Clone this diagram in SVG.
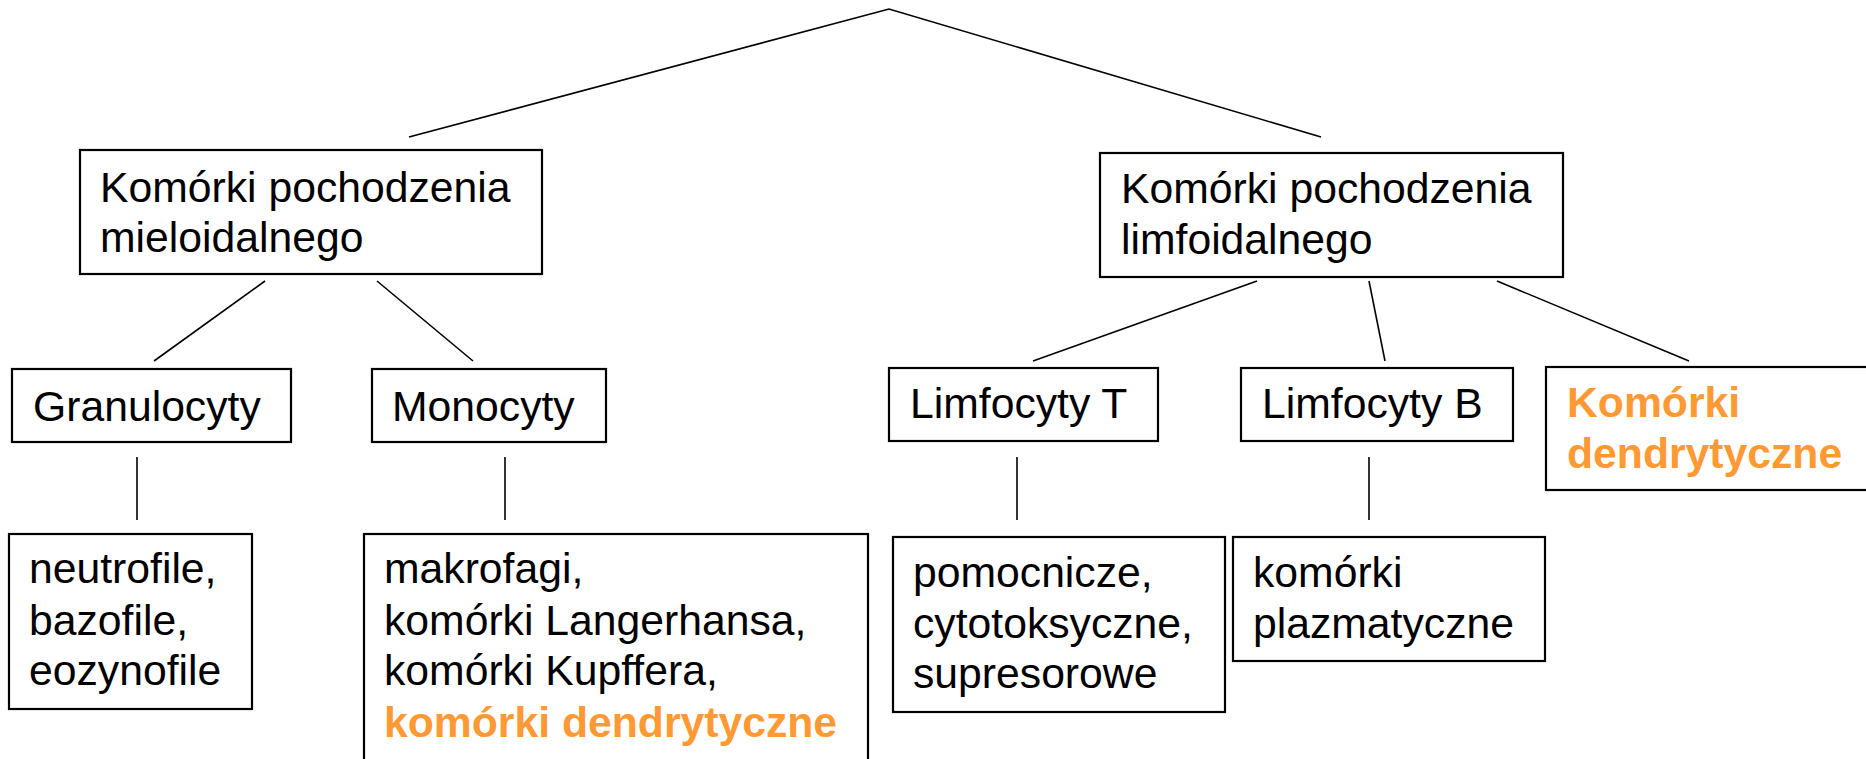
<svg xmlns="http://www.w3.org/2000/svg" width="1866" height="759" viewBox="0 0 1866 759">
<style>
.box{fill:#fff;stroke:#000;stroke-width:2.2}
.t{font-family:"Liberation Sans",Arial,sans-serif;font-size:42.7px;fill:#000}
.o{font-family:"Liberation Sans",Arial,sans-serif;font-size:42.7px;font-weight:bold;fill:#FF9933}
.ln{stroke:#000;stroke-width:1.6;fill:none}
</style>
<rect width="1866" height="759" fill="#fff"/>
<g id="connectors">
<polyline class="ln" points="409,137 889,9 1321,137"/>
<line class="ln" x1="265" y1="281" x2="154" y2="361"/>
<line class="ln" x1="377" y1="281" x2="473" y2="361"/>
<line class="ln" x1="1257" y1="281" x2="1033" y2="361"/>
<line class="ln" x1="1369" y1="281" x2="1385" y2="361"/>
<line class="ln" x1="1497" y1="281" x2="1689" y2="361"/>
<line class="ln" x1="137" y1="457" x2="137" y2="520"/>
<line class="ln" x1="505" y1="457" x2="505" y2="520"/>
<line class="ln" x1="1017" y1="457" x2="1017" y2="520"/>
<line class="ln" x1="1369" y1="457" x2="1369" y2="520"/>
</g>
<g id="mieloid">
<rect class="box" x="80" y="150" width="462" height="124"/>
<text class="t" x="100" y="202">Komórki pochodzenia</text>
<text class="t" x="100" y="252">mieloidalnego</text>
</g>
<g id="limfoid">
<rect class="box" x="1100" y="153" width="463" height="124"/>
<text class="t" x="1121" y="203">Komórki pochodzenia</text>
<text class="t" x="1121" y="254">limfoidalnego</text>
</g>
<g id="granulocyty">
<rect class="box" x="12" y="369" width="279" height="73"/>
<text class="t" x="33" y="421">Granulocyty</text>
</g>
<g id="monocyty">
<rect class="box" x="372" y="369" width="234" height="73"/>
<text class="t" x="392" y="421">Monocyty</text>
</g>
<g id="limfocytyT">
<rect class="box" x="889" y="368" width="269" height="73"/>
<text class="t" x="910" y="418">Limfocyty T</text>
</g>
<g id="limfocytyB">
<rect class="box" x="1241" y="368" width="272" height="73"/>
<text class="t" x="1262" y="418">Limfocyty B</text>
</g>
<g id="dendrytyczne">
<rect class="box" x="1546" y="367" width="330" height="123"/>
<text class="o" x="1567" y="417">Komórki</text>
<text class="o" x="1567" y="468">dendrytyczne</text>
</g>
<g id="granulocyty-list">
<rect class="box" x="9" y="534" width="243" height="175"/>
<text class="t" x="29" y="583">neutrofile,</text>
<text class="t" x="29" y="635">bazofile,</text>
<text class="t" x="29" y="685">eozynofile</text>
</g>
<g id="monocyty-list">
<rect class="box" x="364" y="534" width="504" height="240"/>
<text class="t" x="384" y="583">makrofagi,</text>
<text class="t" x="384" y="635">komórki Langerhansa,</text>
<text class="t" x="384" y="685">komórki Kupffera,</text>
<text class="o" x="384" y="737">komórki dendrytyczne</text>
</g>
<g id="limfocytyT-list">
<rect class="box" x="893" y="537" width="332" height="175"/>
<text class="t" x="913" y="587">pomocnicze,</text>
<text class="t" x="913" y="638">cytotoksyczne,</text>
<text class="t" x="913" y="688">supresorowe</text>
</g>
<g id="limfocytyB-list">
<rect class="box" x="1233" y="537" width="312" height="124"/>
<text class="t" x="1253" y="587">komórki</text>
<text class="t" x="1253" y="638">plazmatyczne</text>
</g>
</svg>
